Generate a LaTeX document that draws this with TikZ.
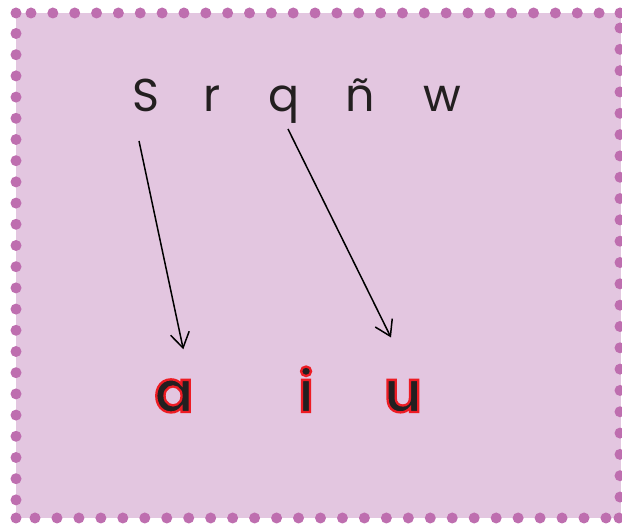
\documentclass[tikz,border=0pt]{standalone}
\usepackage{fontspec}
\setmainfont{Poppins}
\IfFontExistsTF{Poppins SemiBold}{\newfontfamily\botfont{Poppins SemiBold}}{\newfontfamily\botfont{Poppins}[UprightFont=*-Bold]}
\usetikzlibrary{arrows.meta}
\definecolor{bgfill}{RGB}{227,198,224}
\definecolor{dotc}{RGB}{190,110,175}
\definecolor{ink}{RGB}{35,31,32}
\definecolor{redo}{RGB}{237,28,36}
\newcommand\redrim[1]{\special{pdf:literal direct 2 Tr 2.3 w 0.929 0.110 0.141 RG}#1\special{pdf:literal direct 0 Tr}}
\tikzset{
  toplet/.style={anchor=base,inner sep=0pt,text=ink,font=\fontsize{46}{50}\selectfont},
  botlet/.style={anchor=base,inner sep=0pt,text=ink,font=\fontsize{58}{62}\botfont},
  link/.style={draw=black,line width=1.5pt,-{Straight Barb[length=15pt,width=19pt,line width=1.5pt]}},
  dot/.style={fill=dotc}
}
\begin{document}
\begin{tikzpicture}[x=1pt,y=-1pt]
\useasboundingbox (0,0) rectangle (622,526);
\fill[bgfill] (16,13) rectangle (621,518);
% dotted border
\foreach \k in {0,...,26} \fill[dot] ({31+21.85*\k},13) circle (5.5);
\foreach \k in {0,...,26} \fill[dot] ({35+21.96*\k},518) circle (5.5);
\foreach \k in {0,...,22} \fill[dot] (16,{33.5+21.2*\k}) circle (5.5);
\foreach \k in {0,...,22} \fill[dot] (620,{28+21.32*\k}) circle (5.5);
\fill[dot] (16,13) circle (5.5);
\fill[dot] (620,13) circle (5.5);
\fill[dot] (16,518) circle (5.5);
\fill[dot] (619,518) circle (5.5);
% top letters
\node[toplet] (S) at (145.5,112) {S};
\node[toplet] (r) at (212,112) {r};
\node[toplet] (q) at (284,112) {q};
\node[toplet] (n) at (360,112) {ñ};
\node[toplet] (w) at (442,112) {w};
% arrows
\coordinate (sS) at (139,141);
\coordinate (eS) at (183.3,349.3);
\coordinate (sq) at (288,129);
\coordinate (eq) at (391,337.5);
\draw[link] (sS) -- (eS);
\draw[link] (sq) -- (eq);
% bottom letters
\node[botlet] (a) at (174,412) {\redrim{a}};
\node[botlet] (i) at (306,412) {\redrim{i}};
\node[botlet] (u) at (403,412) {\redrim{u}};
\end{tikzpicture}
\end{document}
